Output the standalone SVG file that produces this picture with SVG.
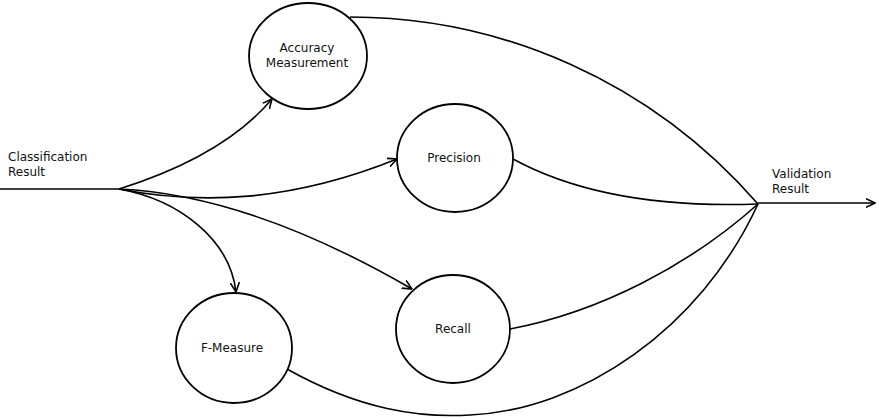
<svg xmlns="http://www.w3.org/2000/svg" width="879" height="418" viewBox="0 0 879 418">
<style>
.node{fill:#fff;stroke:#000;stroke-width:1.8}
.lbl{font-family:"DejaVu Sans",sans-serif;font-size:12px;fill:#111}
.c{text-anchor:middle}
.edge{fill:none;stroke:#000;stroke-width:1.6}
</style>
<defs>
<marker id="arr" viewBox="0 0 10 10" refX="9.5" refY="5" markerWidth="10" markerHeight="10" markerUnits="userSpaceOnUse" orient="auto">
<path d="M0,0.5 L9.5,5 L0,9.5" fill="none" stroke="#000" stroke-width="1.6"/>
</marker>
</defs>
<rect width="879" height="418" fill="#fff"/>
<g id="connectors">
<path class="edge" d="M0,189 L119,189"/>
<path class="edge" d="M119,189 Q224,156 272,99" marker-end="url(#arr)"/>
<path class="edge" d="M119,189 C200,205 290,202 397,159" marker-end="url(#arr)"/>
<path class="edge" d="M119,189 Q250,195 412,289" marker-end="url(#arr)"/>
<path class="edge" d="M119,189 C180,200 230,240 236,292" marker-end="url(#arr)"/>
<path class="edge" d="M350,17 C500,17 650,80 758,204"/>
<path class="edge" d="M513,159 C570,190 650,208 758,204"/>
<path class="edge" d="M510,329 C600,312 690,265 758,204"/>
<path class="edge" d="M287,369 C360,410 420,418 470,415 C580,410 700,330 758,204"/>
<path class="edge" d="M758,203 L875,203" marker-end="url(#arr)"/>
</g>
<g id="accuracy">
<ellipse class="node" cx="308" cy="56" rx="59" ry="53"/>
<text class="lbl c" x="307" y="52">Accuracy</text>
<text class="lbl c" x="307" y="67">Measurement</text>
</g>
<g id="precision">
<ellipse class="node" cx="455" cy="158" rx="58" ry="54"/>
<text class="lbl c" x="454" y="162">Precision</text>
</g>
<g id="recall">
<ellipse class="node" cx="453" cy="329" rx="57" ry="54"/>
<text class="lbl c" x="453" y="333">Recall</text>
</g>
<g id="fmeasure">
<ellipse class="node" cx="234" cy="348" rx="58" ry="55"/>
<text class="lbl c" x="232" y="352">F-Measure</text>
</g>
<g id="classification">
<text class="lbl" x="8" y="161">Classification</text>
<text class="lbl" x="8" y="176">Result</text>
</g>
<g id="validation">
<text class="lbl" x="772" y="178">Validation</text>
<text class="lbl" x="772" y="193">Result</text>
</g>
</svg>
